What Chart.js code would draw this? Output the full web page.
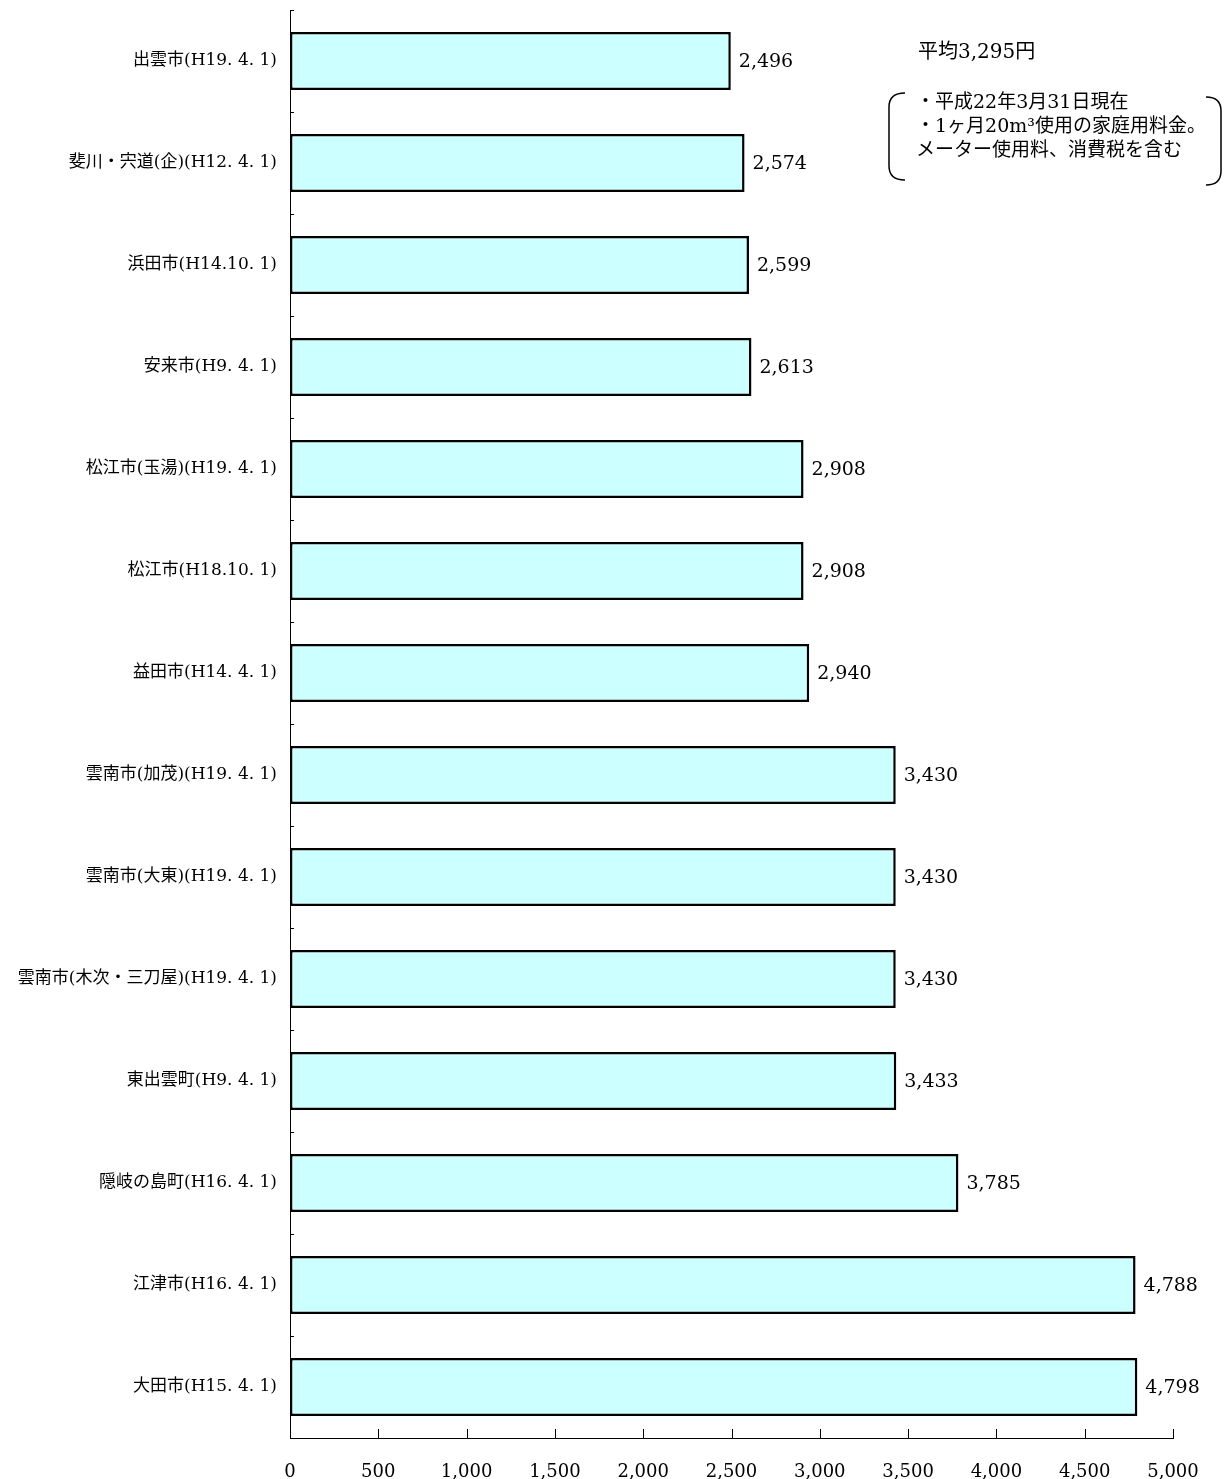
<!DOCTYPE html>
<html>
 <head>
  <meta charset="utf-8">
  <title>水道料金比較</title>
  <style>
  html, body { margin: 0; padding: 0; background: #fff; }
  #wrap { width: 1228px; height: 1479px; }
  </style>
 </head>
 <body>
 <div id="wrap"><canvas id="chart"></canvas></div>
 <script src="https://cdn.jsdelivr.net/npm/chart.js@4"></script>
 <script>
 // data
 const cities = [
  '出雲市(H19. 4. 1)',
  '斐川・宍道(企)(H12. 4. 1)',
  '浜田市(H14.10. 1)',
  '安来市(H9. 4. 1)',
  '松江市(玉湯)(H19. 4. 1)',
  '松江市(H18.10. 1)',
  '益田市(H14. 4. 1)',
  '雲南市(加茂)(H19. 4. 1)',
  '雲南市(大東)(H19. 4. 1)',
  '雲南市(木次・三刀屋)(H19. 4. 1)',
  '東出雲町(H9. 4. 1)',
  '隠岐の島町(H16. 4. 1)',
  '江津市(H16. 4. 1)',
  '大田市(H15. 4. 1)'
 ];
 const fees = [2496, 2574, 2599, 2613, 2908, 2908, 2940, 3430, 3430, 3430, 3433, 3785, 4788, 4798];
 const xMax = 5000;
 const xStep = 500;
 const averageNote = '平均3,295円';
 const noteLines = ['・平成22年3月31日現在', '・1ヶ月20m³使用の家庭用料金。', 'メーター使用料、消費税を含む'];

 const serif = '"DejaVu Serif", "Noto Sans CJK JP", serif';

 // value labels at bar ends
 const valueLabels = {
  id: 'valueLabels',
  afterDatasetsDraw(chart) {
   const ctx = chart.ctx;
   const meta = chart.getDatasetMeta(0);
   ctx.save();
   ctx.fillStyle = '#000';
   ctx.font = '19px ' + serif;
   ctx.textBaseline = 'middle';
   ctx.textAlign = 'left';
   meta.data.forEach((bar, i) => {
    ctx.fillText(fees[i].toLocaleString('en-US'), bar.x + 8, bar.y + 1);
   });
   ctx.restore();
  }
 };

 // small tick marks pointing into the plot, plus the note box
 const extras = {
  id: 'extras',
  afterDraw(chart) {
   const ctx = chart.ctx;
   const xs = chart.scales.x;
   const area = chart.chartArea;
   ctx.save();
   ctx.strokeStyle = '#000';
   ctx.lineWidth = 1;
   // y category boundaries
   for (let i = 0; i <= cities.length; i++) {
    const y = Math.round(area.top + (area.bottom - area.top) * i / cities.length) + 0.5;
    ctx.beginPath();
    ctx.moveTo(area.left, y);
    ctx.lineTo(area.left + 4, y);
    ctx.stroke();
   }
   // x ticks
   for (let v = 0; v <= xMax; v += xStep) {
    const x = Math.round(xs.getPixelForValue(v)) + 0.5;
    ctx.beginPath();
    ctx.moveTo(x, area.bottom);
    ctx.lineTo(x, area.bottom - 9);
    ctx.stroke();
   }
   // note
   ctx.fillStyle = '#000';
   ctx.textBaseline = 'middle';
   ctx.textAlign = 'left';
   ctx.font = '20px ' + serif;
   ctx.fillText(averageNote, 918, 53);
   ctx.font = '19px ' + serif;
   noteLines.forEach((t, i) => ctx.fillText(t, 916, 103 + i * 24));
   ctx.lineWidth = 1.5;
   // left bracket
   ctx.beginPath();
   ctx.moveTo(905, 93);
   ctx.quadraticCurveTo(889, 93, 889, 107);
   ctx.lineTo(889, 166);
   ctx.quadraticCurveTo(889, 180, 905, 180);
   ctx.stroke();
   // right bracket
   ctx.beginPath();
   ctx.moveTo(1206, 97);
   ctx.quadraticCurveTo(1221, 97, 1221, 111);
   ctx.lineTo(1221, 171);
   ctx.quadraticCurveTo(1221, 185, 1206, 185);
   ctx.stroke();
   ctx.restore();
  }
 };

 new Chart(document.getElementById('chart'), {
  type: 'bar',
  data: {
   labels: cities,
   datasets: [{
    data: fees,
    backgroundColor: '#ccffff',
    borderColor: '#000',
    borderWidth: 2.5,
    borderSkipped: false,
    barPercentage: 0.57,
    categoryPercentage: 1
   }]
  },
  options: {
   indexAxis: 'y',
   responsive: true,
   maintainAspectRatio: false,
   animation: false,
   layout: { padding: { top: 10, right: 55, left: 0, bottom: 0 } },
   plugins: {
    legend: { display: false },
    tooltip: { enabled: false }
   },
   scales: {
    x: {
     min: 0,
     max: xMax,
     ticks: {
      stepSize: xStep,
      color: '#000',
      padding: 16,
      font: { family: serif, size: 18 },
      callback: v => v.toLocaleString('en-US')
     },
     grid: { display: false },
     border: { color: '#000', width: 1 },
     afterFit(scale) { scale.height = 41; }
    },
    y: {
     ticks: {
      color: '#000',
      padding: 5,
      font: { family: serif, size: 17 }
     },
     grid: { display: false },
     border: { color: '#000', width: 1 },
     afterFit(scale) {
      scale.width = 290;
      scale.paddingTop = 0;
      scale.paddingBottom = 0;
     }
    }
   }
  },
  plugins: [valueLabels, extras]
 });
 </script>
 </body>
</html>
